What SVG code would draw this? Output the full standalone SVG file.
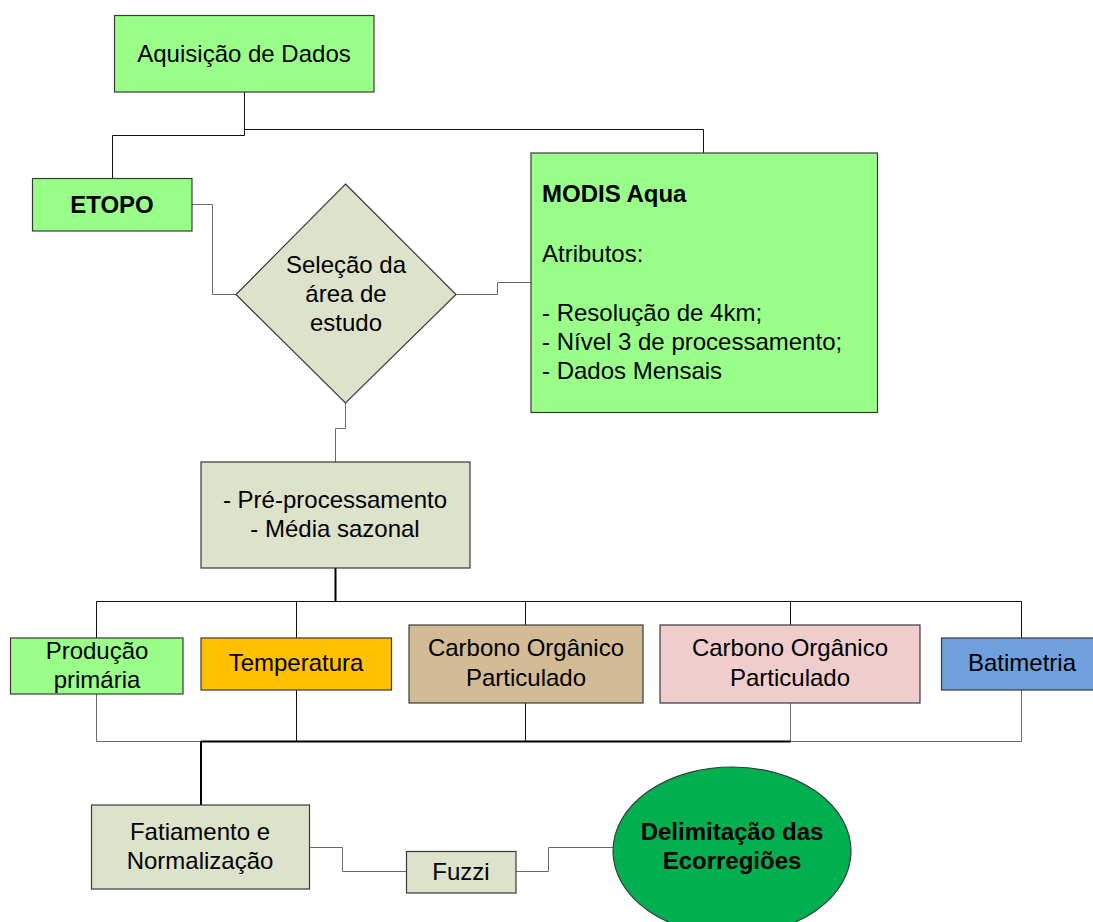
<svg xmlns="http://www.w3.org/2000/svg" width="1093" height="922" viewBox="0 0 1093 922">
<style>
  .t { font-family: "Liberation Sans", Arial, sans-serif; font-size: 24px; fill: #000; }
  .m { text-anchor: middle; }
  .b { font-weight: bold; }
  .box { stroke: #3a3a3a; stroke-width: 1.2; }
  .green { fill: #99FF88; }
  .sage { fill: #DDE2CB; }
  .c { fill: none; stroke: #111; stroke-width: 1; }
  .cg { fill: none; stroke: #6a6a6a; stroke-width: 1; }
  .ck { fill: none; stroke: #000; stroke-width: 2; }
</style>
<rect width="1093" height="922" fill="#fff"/>
<g id="connectors">
  <path class="c" d="M244.5 92 V135.5 H112.5 V178"/>
  <path class="c" d="M244.5 129.5 H703.5 V153"/>
  <path class="cg" d="M192 204.5 H212.5 V294.5 H236"/>
  <path class="cg" d="M456 294.5 H497.5 V282.5 H531"/>
  <path class="cg" d="M345.5 403 V428.5 H335.5 V462"/>
  <path class="ck" d="M335.5 568 V601.5"/>
  <path class="c" d="M96.5 638 V601.5 H1021.5 V638"/>
  <path class="c" d="M296.5 601.5 V638"/>
  <path class="c" d="M525.5 601.5 V625"/>
  <path class="c" d="M790.5 601.5 V625"/>
  <path class="cg" d="M96.5 694 V741.5 H201"/>
  <path class="cg" d="M790.5 703 V741.5 H1021.5 V690"/>
  <path class="c" d="M296.5 690 V741.5"/>
  <path class="c" d="M525.5 703 V741.5"/>
  <path class="ck" d="M201 741.5 H790.5"/>
  <path class="ck" d="M201 741 V805"/>
  <path class="cg" d="M310 847.5 H342.5 V871.5 H406"/>
  <path class="cg" d="M516 871.5 H548.5 V847.5 H613"/>
</g>
<g id="aquisicao">
  <rect class="box green" x="114.5" y="15.5" width="259.5" height="76.5"/>
  <text class="t m" x="244" y="62">Aquisição de Dados</text>
</g>
<g id="etopo">
  <rect class="box green" x="32.5" y="178.5" width="159.5" height="52.5"/>
  <text class="t m b" x="112" y="213">ETOPO</text>
</g>
<g id="selecao">
  <polygon class="box sage" points="345.5,184 456,294.5 345.5,403 236,294.5"/>
  <text class="t m" x="346" y="273">Seleção da</text>
  <text class="t m" x="346" y="302">área de</text>
  <text class="t m" x="346" y="331">estudo</text>
</g>
<g id="modis">
  <rect class="box green" x="531" y="153" width="346.5" height="259.5"/>
  <text class="t b" x="542" y="202">MODIS Aqua</text>
  <text class="t" x="542" y="262">Atributos:</text>
  <text class="t" x="542" y="321">- Resolução de 4km;</text>
  <text class="t" x="542" y="350">- Nível 3 de processamento;</text>
  <text class="t" x="542" y="379">- Dados Mensais</text>
</g>
<g id="preprocessamento">
  <rect class="box sage" x="201" y="462" width="269" height="106"/>
  <text class="t m" x="335" y="508">- Pré-processamento</text>
  <text class="t m" x="335" y="537">- Média sazonal</text>
</g>
<g id="producao">
  <rect class="box green" x="10.5" y="638" width="172.5" height="56"/>
  <text class="t m" x="97" y="659">Produção</text>
  <text class="t m" x="97" y="688">primária</text>
</g>
<g id="temperatura">
  <rect class="box" fill="#FFC000" x="201" y="638" width="190.5" height="52"/>
  <text class="t m" x="296" y="671">Temperatura</text>
</g>
<g id="carbono1">
  <rect class="box" fill="#D2BB95" x="409" y="625" width="234" height="78"/>
  <text class="t m" x="526" y="656">Carbono Orgânico</text>
  <text class="t m" x="526" y="686">Particulado</text>
</g>
<g id="carbono2">
  <rect class="box" fill="#EECDCC" x="660" y="625" width="260" height="78"/>
  <text class="t m" x="790" y="656">Carbono Orgânico</text>
  <text class="t m" x="790" y="686">Particulado</text>
</g>
<g id="batimetria">
  <rect class="box" fill="#6F9FDC" x="941.5" y="638" width="160" height="52"/>
  <text class="t m" x="1022" y="671">Batimetria</text>
</g>
<g id="fatiamento">
  <rect class="box sage" x="91.5" y="805" width="218" height="84"/>
  <text class="t m" x="200" y="840">Fatiamento e</text>
  <text class="t m" x="200" y="869">Normalização</text>
</g>
<g id="fuzzi">
  <rect class="box sage" x="406.5" y="851.5" width="109.5" height="41.5"/>
  <text class="t m" x="461" y="880">Fuzzi</text>
</g>
<g id="delimitacao">
  <ellipse class="box" fill="#00B050" cx="732" cy="851" rx="119" ry="84"/>
  <text class="t m b" x="732" y="840">Delimitação das</text>
  <text class="t m b" x="732" y="869">Ecorregiões</text>
</g>
</svg>
